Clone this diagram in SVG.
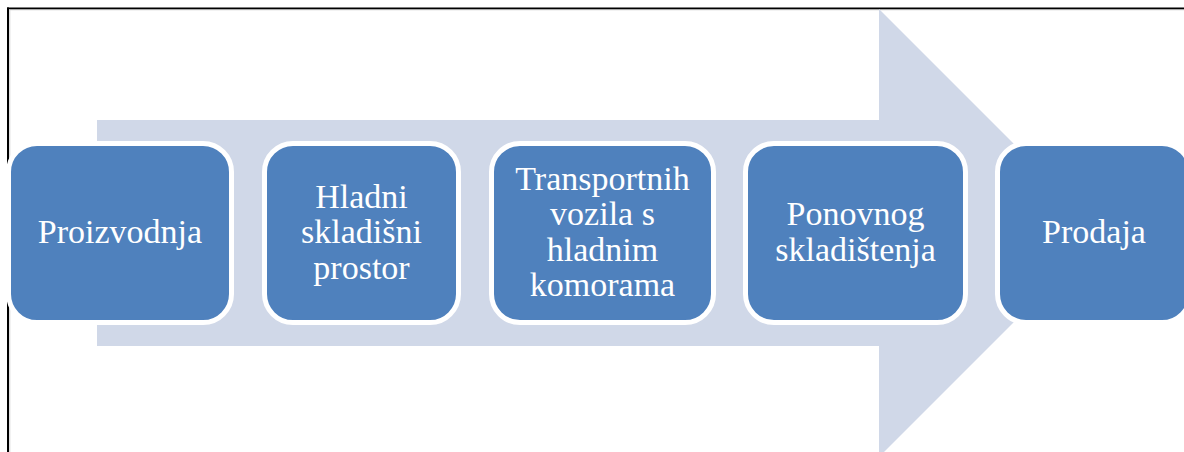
<svg xmlns="http://www.w3.org/2000/svg" width="1184" height="452" viewBox="0 0 1184 452">
<style>
.node{fill:#4F81BD;stroke:#FFFFFF;stroke-width:5}
.lbl{font-family:"Liberation Serif","Times New Roman",serif;font-size:34px;fill:#FFFFFF;text-anchor:middle}
</style>
<rect x="0" y="0" width="1184" height="452" fill="#FFFFFF"/>
<g id="frame">
<line x1="10" y1="9.8" x2="1184" y2="9.8" stroke="#D4D4D4" stroke-width="1"/>
<line x1="9.8" y1="10" x2="9.8" y2="452" stroke="#D4D4D4" stroke-width="1"/>
<line x1="7" y1="8.3" x2="1184" y2="8.3" stroke="#000000" stroke-width="1.8"/>
<line x1="8" y1="7.4" x2="8" y2="452" stroke="#000000" stroke-width="2"/>
</g>
<g id="connectors">
<path d="M97,120 H879 V9 L1103,233 L879,457 V346 H97 Z" fill="#D0D8E8"/>
</g>
<g id="node1">
<rect class="node" x="8.5" y="143.5" width="223" height="179" rx="28.5"/>
<text class="lbl" x="120" y="243.3">Proizvodnja</text>
</g>
<g id="node2">
<rect class="node" x="264.5" y="143.5" width="194" height="179" rx="28.5"/>
<text class="lbl"><tspan x="361.5" y="207.8">Hladni</tspan><tspan x="361.5" y="243.3">skladišni</tspan><tspan x="361.5" y="278.8">prostor</tspan></text>
</g>
<g id="node3">
<rect class="node" x="491.5" y="143.5" width="222" height="179" rx="28.5"/>
<text class="lbl"><tspan x="602.5" y="189.5">Transportnih</tspan><tspan x="602.5" y="225">vozila s</tspan><tspan x="602.5" y="260.5">hladnim</tspan><tspan x="602.5" y="296">komorama</tspan></text>
</g>
<g id="node4">
<rect class="node" x="745.5" y="143.5" width="220" height="179" rx="28.5"/>
<text class="lbl"><tspan x="855.5" y="225.3">Ponovnog</tspan><tspan x="855.5" y="260.8">skladištenja</tspan></text>
</g>
<g id="node5">
<rect class="node" x="997.5" y="143.5" width="193" height="179" rx="28.5"/>
<text class="lbl" x="1094" y="243.3">Prodaja</text>
</g>
</svg>
